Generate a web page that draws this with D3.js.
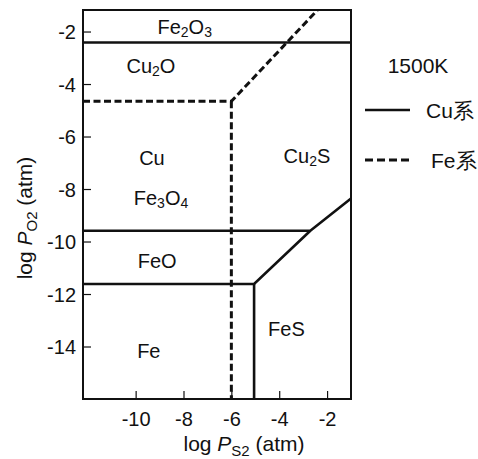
<!DOCTYPE html>
<html><head><meta charset="utf-8">
<script src="https://cdn.jsdelivr.net/npm/d3@7/dist/d3.min.js"></script>
<style>body{margin:0;background:#fff}text{font-family:"Liberation Sans",Arial,sans-serif;fill:#111}</style>
</head><body><svg id="c" width="478" height="459"></svg>
<script>
const xDomain = [-12.2, -1];
const yDomain = [-16, -1.18];
const xTicks = [-10, -8, -6, -4, -2];
const yTicks = [-14, -12, -10, -8, -6, -4, -2];
// Cu system boundaries (solid)
const cuLines = [
  [[-12.2, -2.42], [-1, -2.42]],
  [[-12.2, -9.59], [-2.7, -9.59], [-1, -8.36]],
  [[-12.2, -11.62], [-5.05, -11.62], [-2.7, -9.59]],
  [[-5.05, -11.62], [-5.05, -16]]
];
// Fe system boundaries (dashed)
const feLines = [
  [[-12.2, -4.66], [-6, -4.66], [-2.4, -1.18]],
  [[-6, -4.66], [-6, -16]]
];
const regionLabels = [
  {parts:[["Fe"],["2","sub"],["O"],["3","sub"]], x:-7.95, y:-1.83},
  {parts:[["Cu"],["2","sub"],["O"]], x:-9.36, y:-3.31},
  {parts:[["Cu"]], x:-9.32, y:-6.8},
  {parts:[["Fe"],["3","sub"],["O"],["4","sub"]], x:-8.94, y:-8.35},
  {parts:[["FeO"]], x:-9.1, y:-10.74},
  {parts:[["Fe"]], x:-9.45, y:-14.19},
  {parts:[["Cu"],["2","sub"],["S"]], x:-2.84, y:-6.76},
  {parts:[["FeS"]], x:-3.7, y:-13.32}
];

const svg = d3.select("#c");
const x = d3.scaleLinear().domain(xDomain).range([83, 351]);
const y = d3.scaleLinear().domain(yDomain).range([399, 10]);
const FONT = '"Liberation Sans",Arial,sans-serif';

// axes with inward ticks
const gx = svg.append("g").attr("transform", "translate(0,399)")
  .call(d3.axisBottom(x).tickValues(xTicks).tickFormat(d => String(d)).tickSizeInner(-8).tickSizeOuter(0));
const gy = svg.append("g").attr("transform", "translate(83,0)")
  .call(d3.axisLeft(y).tickValues(yTicks).tickFormat(d => String(d)).tickSizeInner(-8).tickSizeOuter(0));
[gx, gy].forEach(g => {
  g.select(".domain").remove();
  g.selectAll("line").attr("stroke", "#111").attr("stroke-width", 1.2);
  g.selectAll("text").style("font-size", "20px").style("font-family", FONT).attr("fill", "#111");
});
gx.selectAll("text").attr("y", 13).attr("dy", "0.71em");
gy.selectAll("text").attr("x", -7).attr("dy", "0.35em");

const line = d3.line().x(d => x(d[0])).y(d => y(d[1]));
cuLines.forEach(l => svg.append("path").attr("d", line(l)).attr("fill", "none")
  .attr("stroke", "#111").attr("stroke-width", 2.6).attr("stroke-linejoin", "miter"));
feLines.forEach(l => svg.append("path").attr("d", line(l)).attr("fill", "none")
  .attr("stroke", "#111").attr("stroke-width", 3).attr("stroke-dasharray", "7,3.5"));

// frame
svg.append("rect").attr("x", 83).attr("y", 10).attr("width", 268).attr("height", 389)
  .attr("fill", "none").attr("stroke", "#111").attr("stroke-width", 2);

regionLabels.forEach(r => {
  const t = svg.append("text").attr("x", x(r.x)).attr("y", y(r.y)).attr("text-anchor", "middle")
    .attr("dominant-baseline", "central").style("font-size", "20px");
  let sub = false;
  r.parts.forEach(p => {
    const ts = t.append("tspan").text(p[0]);
    if (p[1] === "sub") { ts.style("font-size", "14px").attr("dy", sub ? 0 : 5); sub = true; }
    else { if (sub) ts.attr("dy", -5); sub = false; }
  });
});

// axis titles
const xt = svg.append("text").attr("x", 244).attr("y", 451).attr("text-anchor", "middle").style("font-size", "21px");
xt.append("tspan").text("log ");
xt.append("tspan").text("P").attr("font-style", "italic");
xt.append("tspan").text("S2").style("font-size", "15px").attr("dy", 5);
xt.append("tspan").text(" (atm)").attr("dy", -5);

const yt = svg.append("text").attr("transform", "translate(32,218) rotate(-90)").attr("text-anchor", "middle").style("font-size", "21px");
yt.append("tspan").text("log ");
yt.append("tspan").text("P").attr("font-style", "italic");
yt.append("tspan").text("O2").style("font-size", "15px").attr("dy", 5);
yt.append("tspan").text(" (atm)").attr("dy", -5);

// temperature & legend
svg.append("text").attr("x", 418).attr("y", 65).attr("text-anchor", "middle").attr("dominant-baseline", "central").style("font-size", "21px").text("1500K");
svg.append("line").attr("x1", 365).attr("x2", 410).attr("y1", 110).attr("y2", 110).attr("stroke", "#111").attr("stroke-width", 2.6);
svg.append("text").attr("x", 426).attr("y", 110).attr("dominant-baseline", "central").style("font-size", "21px").text("Cu系");
svg.append("line").attr("x1", 365).attr("x2", 410).attr("y1", 160).attr("y2", 160).attr("stroke", "#111").attr("stroke-width", 3).attr("stroke-dasharray", "8,4");
svg.append("text").attr("x", 431).attr("y", 160).attr("dominant-baseline", "central").style("font-size", "21px").text("Fe系");
</script></body></html>
